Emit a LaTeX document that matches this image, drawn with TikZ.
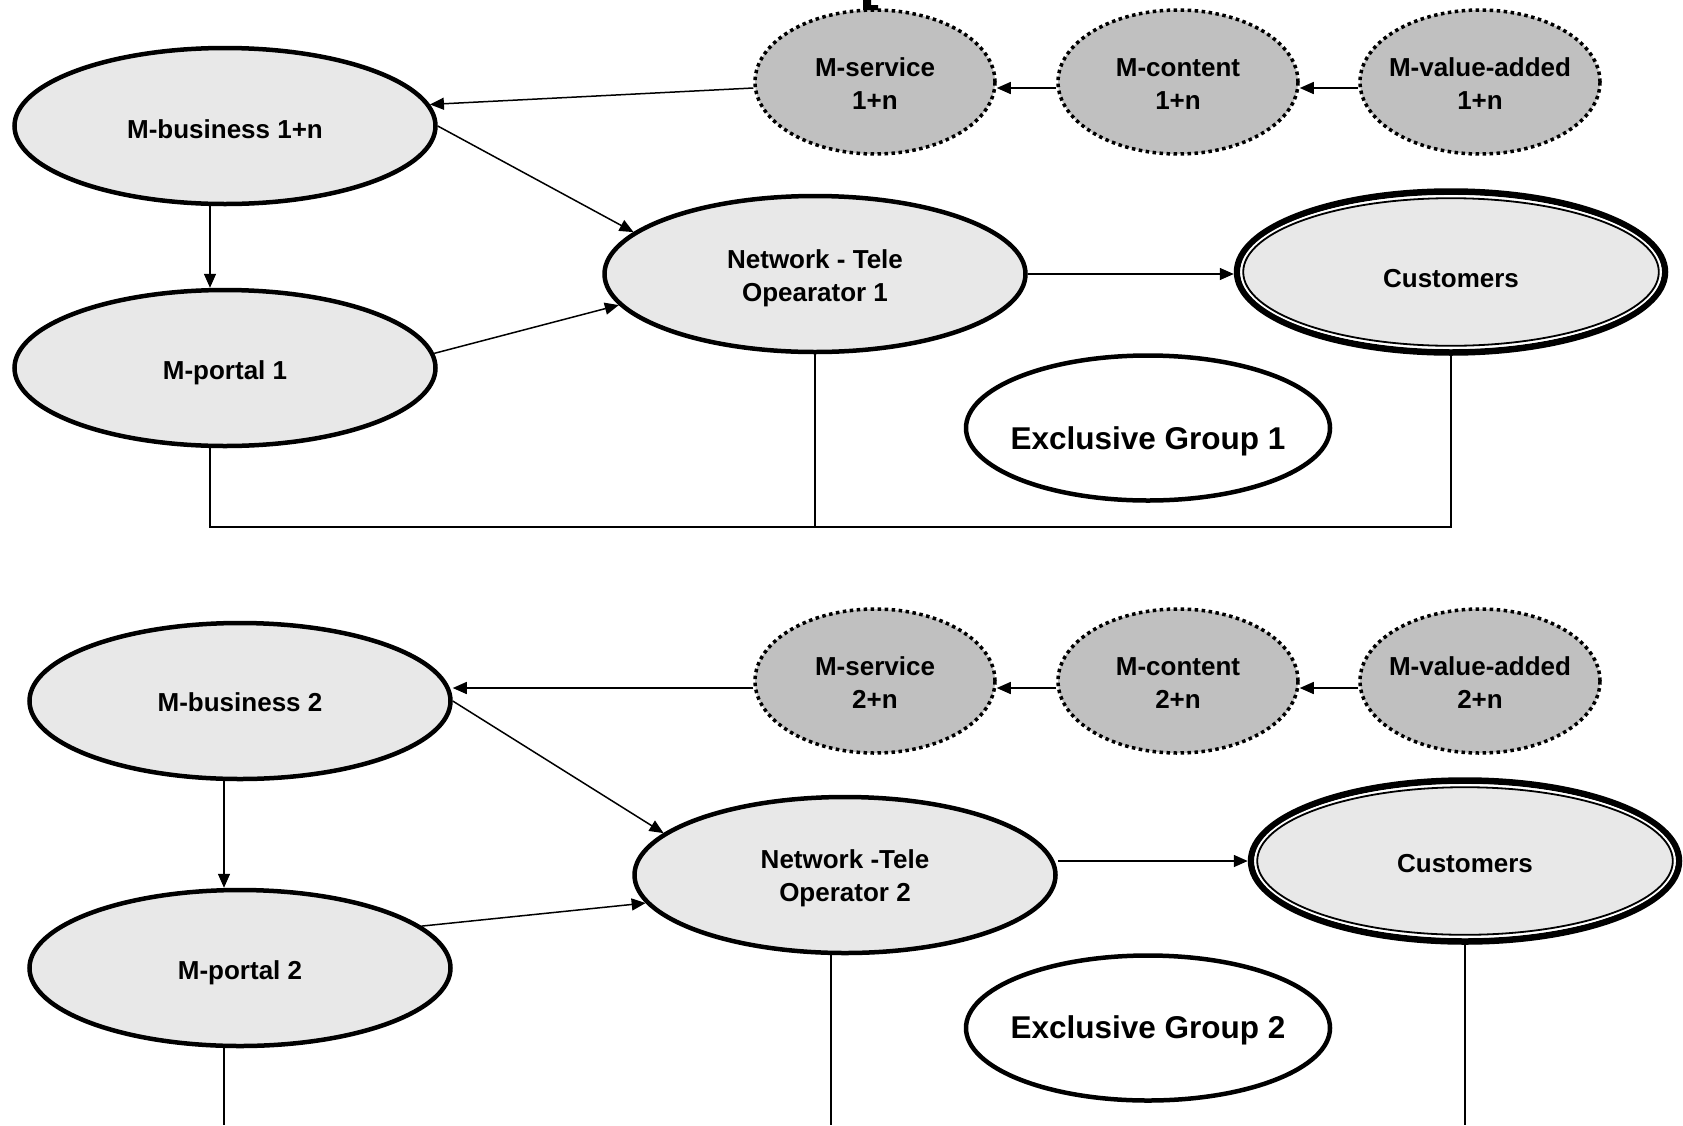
\documentclass[tikz,border=0pt]{standalone}
\usepackage{fontspec}
\setmainfont{Liberation Sans}
\usetikzlibrary{shapes.geometric,arrows.meta}
\definecolor{lgray}{HTML}{E8E8E8}
\definecolor{dgray}{HTML}{C0C0C0}
\newcommand\mylab{\fontsize{26}{33}\selectfont\bfseries}
\newcommand\mybig{\fontsize{31.5}{38}\selectfont\bfseries}
\tikzset{
  base/.style={ellipse, inner sep=-40pt, align=center, font=\mylab, text depth=0pt},
  mainnode/.style={base, draw, line width=4.5pt, fill=lgray, minimum width=421pt, minimum height=156pt},
  dotnode/.style={base, draw, line width=3.5pt, dash pattern=on 3.5pt off 3.5pt, fill=dgray, minimum width=240pt, minimum height=144pt, text height=54pt},
  grpnode/.style={base, draw, line width=4.5pt, fill=white, font=\mybig, minimum width=364pt, minimum height=145pt},
  custnode/.style={base, draw, line width=6.5pt, fill=lgray, minimum width=428pt, minimum height=161pt},
  arr/.style={line width=1.5pt, -{Triangle[length=14pt,width=12pt]}},
  ln/.style={line width=1.5pt},
  ringw/.style={white, line width=2.6pt},
  ringb/.style={black, line width=1.8pt}
}
\begin{document}
\begin{tikzpicture}[x=1pt,y=-1pt]
\useasboundingbox (0,0) rectangle (1683,1125);
% ---------- group 1 ----------
\node[mainnode, text height=25.4pt] (mb1) at (225,126) {M-business 1+n};
\node[mainnode, text height=22pt] (mp1) at (225,368) {M-portal 1};
\node[mainnode, text height=55pt] (net1) at (815,274) {Network - Tele\\Opearator 1};
\node[custnode, text height=30pt] (cust1) at (1451,272) {Customers};
\draw[ringw] (cust1.center) ellipse [x radius=209.5pt, y radius=75.5pt];
\draw[ringb] (cust1.center) ellipse [x radius=207.8pt, y radius=73.8pt];
\node[grpnode, text height=42pt] (eg1) at (1148,428) {Exclusive Group 1};
\node[dotnode] (ms1) at (875,82) {M-service\\1+n};
\node[dotnode] (mc1) at (1178,82) {M-content\\1+n};
\node[dotnode] (mv1) at (1480,82) {M-value-added\\1+n};
\fill (863,0) -- (871,0) -- (871,5) -- (878,5) -- (878,10) -- (863,10) -- cycle;
\coordinate (f1) at (0,527);
\draw[arr] ([xshift=-15pt]mb1.south) -- ([xshift=-15pt]mp1.north);
\draw[arr] ([yshift=-6pt]ms1.west) -- (mb1.6);
\draw[arr] ([yshift=-6pt]mc1.west) -- ([yshift=-6pt]ms1.east);
\draw[arr] ([yshift=-6pt]mv1.west) -- ([yshift=-6pt]mc1.east);
\draw[arr] (mb1.east) -- (net1.167);
\draw[arr] (mp1.4) -- (net1.189);
\draw[arr] (net1.east) -- (net1.east -| cust1.west);
\draw[line width=2pt] ([xshift=-15pt]mp1.south) |- (cust1.south |- f1) -- (cust1.south);
\draw[ln] (net1.south) -- (net1.south |- f1);
% ---------- group 2 ----------
\node[mainnode, text height=21pt] (mb2) at (240,701) {M-business 2};
\node[mainnode, text height=22.6pt] (mp2) at (240,968) {M-portal 2};
\node[mainnode, text height=53pt] (net2) at (845,875) {Network -Tele\\Operator 2};
\node[custnode, text height=23pt] (cust2) at (1465,861) {Customers};
\draw[ringw] (cust2.center) ellipse [x radius=209.5pt, y radius=75.5pt];
\draw[ringb] (cust2.center) ellipse [x radius=207.8pt, y radius=73.8pt];
\node[grpnode, text height=20.6pt] (eg2) at (1148,1028) {Exclusive Group 2};
\node[dotnode] (ms2) at (875,681) {M-service\\2+n};
\node[dotnode] (mc2) at (1178,681) {M-content\\2+n};
\node[dotnode] (mv2) at (1480,681) {M-value-added\\2+n};
\coordinate (bot) at (0,1125);
\draw[arr] ([xshift=-16pt]mb2.south) -- ([xshift=-16pt]mp2.north);
\draw[arr] ([yshift=-7pt]ms2.west) -- ([yshift=-7pt]ms2.west -| mb2.east);
\draw[arr] ([yshift=-7pt]mc2.west) -- ([yshift=-7pt]ms2.east);
\draw[arr] ([yshift=-7pt]mv2.west) -- ([yshift=-7pt]mc2.east);
\draw[arr] (mb2.east) -- (net2.167);
\draw[arr] (mp2.13) -- (net2.188);
\draw[arr] (cust2.west -| net2.east) -- (cust2.west);
\draw[ln] ([xshift=-16pt]mp2.south) -- ([xshift=-16pt]mp2.south |- bot);
\draw[ln] ([xshift=-14pt]net2.south) -- ([xshift=-14pt]net2.south |- bot);
\draw[ln] (cust2.south) -- (cust2.south |- bot);
\end{tikzpicture}
\end{document}
